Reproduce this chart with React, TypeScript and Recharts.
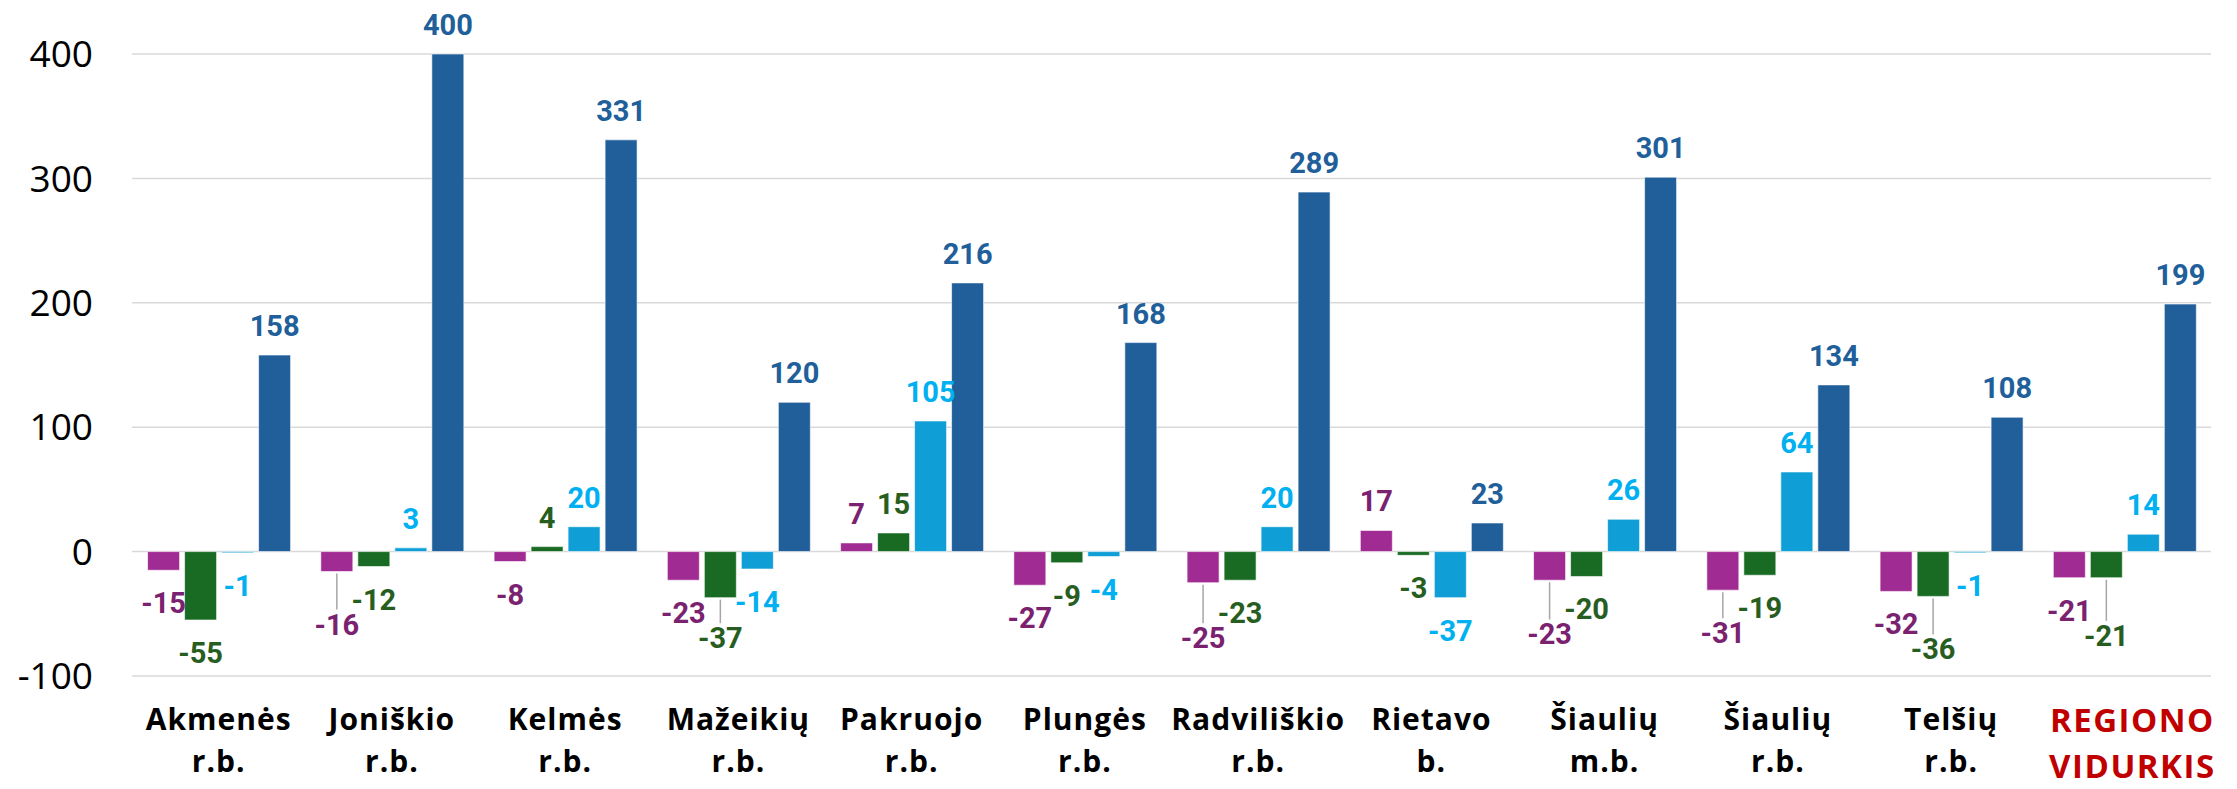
import React from 'react';
import { BarChart, Bar, XAxis, YAxis, CartesianGrid, LabelList } from 'recharts';

const categories = [
  'Akmenės r.b.',
  'Joniškio r.b.',
  'Kelmės r.b.',
  'Mažeikių r.b.',
  'Pakruojo r.b.',
  'Plungės r.b.',
  'Radviliškio r.b.',
  'Rietavo b.',
  'Šiaulių m.b.',
  'Šiaulių r.b.',
  'Telšių r.b.',
  'REGIONO VIDURKIS',
];
const AVERAGE_LABEL = 'REGIONO VIDURKIS';

const purpleValues = [-15, -16, -8, -23, 7, -27, -25, 17, -23, -31, -32, -21];
const greenValues = [-55, -12, 4, -37, 15, -9, -23, -3, -20, -19, -36, -21];
const cyanValues = [-1, 3, 20, -14, 105, -4, 20, -37, 26, 64, -1, 14];
const blueValues = [158, 400, 331, 120, 216, 168, 289, 23, 301, 134, 108, 199];

const yTicks = [-100, 0, 100, 200, 300, 400];

const SERIES = [
  { key: 's1', values: purpleValues, fill: '#A02B93', label: '#7A2270' },
  { key: 's2', values: greenValues, fill: '#196B24', label: '#275E1F' },
  { key: 's3', values: cyanValues, fill: '#0F9ED5', label: '#00B0F0' },
  { key: 's4', values: blueValues, fill: '#215F9A', label: '#215F9A' },
];

const data = categories.map((name, i) => {
  const row: Record<string, any> = { name };
  SERIES.forEach((s) => (row[s.key] = s.values[i]));
  return row;
});

// chart geometry
const W = 2237;
const H = 789;
const M_TOP = 54;
const M_RIGHT = 26;
const Y_W = 132;
const X_H = 113;
const PLOT_W = W - Y_W - M_RIGHT;
const PLOT_H = H - M_TOP - X_H;
const PPU = PLOT_H / 500;
const CAT_GAP = 0.09;
const BAR_GAP = 5;
const BAND = PLOT_W / categories.length;
const BAR_W = (BAND * (1 - 2 * CAT_GAP) - 3 * BAR_GAP) / 4;
const STEP = BAR_W + BAR_GAP;

// data label metrics
const LABEL_SIZE = 29;
const GAP_POS = 19;
const GAP_NEG = 22;
const CAP = 21;
const CLEAR = 4;
const labelWidth = (v: number) => String(Math.abs(v)).length * 16.3 + (v < 0 ? 9.5 : 0);

// push overlapping labels of negative bars downwards, like Excel does
function negativeShifts(): number[][] {
  const shifts = SERIES.map(() => categories.map(() => 0));
  categories.forEach((_, c) => {
    const placed: { s: number; top: number; cx: number; w: number }[] = [];
    SERIES.forEach((ser, s) => {
      const v = ser.values[c];
      if (v >= 0) return;
      let top = -v * PPU + GAP_NEG;
      const cx = s * STEP;
      const w = labelWidth(v);
      for (const p of placed) {
        const hOverlap = Math.abs(cx - p.cx) < (w + p.w) / 2;
        const vOverlap = top < p.top + CAP && p.top < top + CAP;
        if (hOverlap && vOverlap) {
          if (v <= SERIES[p.s].values[c]) top = p.top + CAP + CLEAR;
          else p.top = top + CAP + CLEAR;
        }
      }
      placed.push({ s, top, cx, w });
    });
    placed.forEach((p) => {
      shifts[p.s][c] = p.top - (-SERIES[p.s].values[c] * PPU + GAP_NEG);
    });
  });
  return shifts;
}
const SHIFTS = negativeShifts();

const makeLabel = (s: number) => (props: any) => {
  const box = props.viewBox && props.viewBox.width != null ? props.viewBox : props;
  const { x, y, width, height } = box;
  const value = Number(props.value);
  const index = props.index;
  if (x == null || isNaN(value)) return null;
  const cx = x + width / 2;
  const color = SERIES[s].label;
  const common = {
    x: cx,
    textAnchor: 'middle' as const,
    fontFamily: 'Roboto, Arial, sans-serif',
    fontWeight: 700,
    fontSize: LABEL_SIZE,
    fill: color,
  };
  if (value >= 0) {
    const end = Math.min(y, y + height);
    return <text {...common} y={end - GAP_POS}>{value}</text>;
  }
  const end = Math.max(y, y + height);
  const shift = SHIFTS[s][index] || 0;
  const top = end + GAP_NEG + shift;
  return (
    <g>
      {shift > 6 && (
        <line x1={cx} y1={end + 2} x2={cx} y2={top - 4} stroke="#A6A6A6" strokeWidth={1.5} />
      )}
      <text {...common} y={top + CAP}>{value}</text>
    </g>
  );
};

const CategoryTick = (props: any) => {
  const { x, y, payload } = props;
  const label: string = String(payload.value);
  const i = label.indexOf(' ');
  const l1 = label.slice(0, i);
  const l2 = label.slice(i + 1);
  const avg = label === AVERAGE_LABEL;
  const tx = x + (avg ? 8 : 0);
  return (
    <text
      x={tx}
      y={y}
      textAnchor="middle"
      fontFamily="'Open Sans', Arial, sans-serif"
      fontWeight={700}
      fontSize={avg ? 33 : 30}
      letterSpacing={avg ? 1.5 : 1}
      fill={avg ? '#C00000' : '#000000'}
    >
      <tspan x={tx} dy={avg ? 56 : 54}>{l1}</tspan>
      <tspan x={tx} dy={avg ? 46 : 42}>{l2}</tspan>
    </text>
  );
};

export default function App() {
  return (
    <div style={{ position: 'absolute', left: 0, top: 0, width: W, height: H, background: '#fff' }}>
      <BarChart
        width={W}
        height={H}
        data={data}
        margin={{ top: M_TOP, right: M_RIGHT, bottom: 0, left: 0 }}
        barCategoryGap={`${CAT_GAP * 100}%`}
        barGap={BAR_GAP}
      >
        <CartesianGrid vertical={false} stroke="#D9D9D9" strokeWidth={1.5} />
        <XAxis
          dataKey="name"
          height={X_H}
          axisLine={false}
          tickLine={false}
          tickSize={0}
          tickMargin={0}
          interval={0}
          tick={<CategoryTick />}
        />
        <YAxis
          width={Y_W}
          domain={[-100, 400]}
          ticks={yTicks}
          axisLine={false}
          tickLine={false}
          tickSize={0}
          tickMargin={39}
          tick={{ fontFamily: "'Open Sans', Arial, sans-serif", fontSize: 37, fill: '#000' }}
        />
        {SERIES.map((s, i) => (
          <Bar
            key={s.key}
            dataKey={s.key}
            fill={s.fill}
            stroke="#ffffff"
            strokeOpacity={0.6}
            strokeWidth={1}
            isAnimationActive={false}
          >
            <LabelList dataKey={s.key} content={makeLabel(i)} />
          </Bar>
        ))}
      </BarChart>
    </div>
  );
}
